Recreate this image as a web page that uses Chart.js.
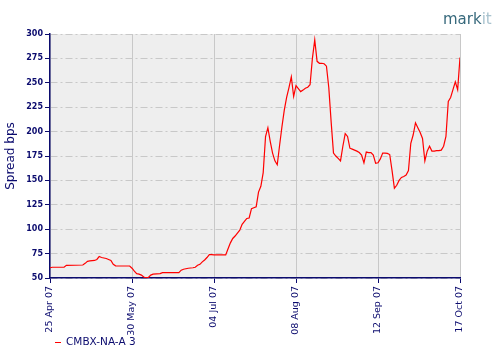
<!DOCTYPE html>
<html>
<head>
<meta charset="utf-8">
<script src="https://cdn.jsdelivr.net/npm/chart.js@4.4.0/dist/chart.umd.min.js"></script>
<style>
  html, body { margin: 0; padding: 0; background: #fff; }
  #wrap { position: relative; width: 500px; height: 360px; }
</style>
</head>
<body>
<div id="wrap"><canvas id="chart" width="500" height="360"></canvas></div>
<script>
// days since 25 Apr 07
const days = [0, 1, 6, 7, 14, 15, 16, 17, 19, 20, 21, 22, 23, 24, 25, 26, 27, 28, 34, 35,
  36, 37, 38, 39, 40, 41, 42, 43, 44, 47, 48, 55, 56, 57, 59, 61, 62, 63, 64, 65,
  66, 67, 68, 69, 70, 75, 76, 77, 78, 79, 80, 81, 82, 83, 84, 85, 86, 87, 88, 89,
  90, 91, 92, 93, 94, 95, 96, 97, 98, 99, 100, 101, 102, 103, 104, 105, 106, 107, 108, 109,
  110, 111, 112, 113, 114, 115, 116, 117, 118, 119, 120, 121, 122, 123, 124, 125, 126, 127, 128, 129,
  130, 131, 132, 133, 134, 135, 136, 137, 138, 139, 140, 141, 142, 143, 144, 145, 146, 147, 148, 149,
  150, 151, 152, 153, 154, 155, 156, 157, 158, 159, 160, 161, 162, 163, 164, 165, 166, 167, 168, 169,
  170, 171, 172, 173, 174, 175];
const spread = [60.5, 61, 61, 63, 63.3, 65, 67, 67.5, 68, 69, 72, 71, 70.5, 70, 69, 68, 64, 62.5, 62.3, 60,
  57, 54.5, 54, 53, 51, 50.3, 50.5, 53, 54, 54.5, 55.5, 55.5, 58, 59, 60, 60.5, 61, 63, 64, 66.5,
  68.5, 71, 74, 74, 73.6, 73.6, 80, 86, 90.5, 93, 96, 99, 105, 108, 111, 111.5, 121, 122, 123, 138,
  144, 158, 195, 204, 190, 178, 170, 166, 186, 205, 222, 235, 245, 256, 236, 247, 244, 241, 242.5, 244.5,
  245.5, 248, 275, 294, 272, 270, 270, 269.5, 267, 245, 210, 178, 175, 172.5, 170, 185, 198, 195, 183, 182,
  181, 180, 178.5, 176, 168, 179, 178.4, 178.4, 176, 167.5, 168, 172, 178, 178, 177.7, 176.5, 160, 142, 145, 150,
  153, 154, 155.5, 160, 188, 196.5, 209, 204, 199, 193, 170, 180, 185, 180, 180, 180.5, 180.5, 181, 185, 195,
  231, 235, 243, 251, 243, 276];
const seriesName = "CMBX-NA-A 3";

const xTickDays = [0, 35, 70, 105, 140, 175];
const xTickLabels = ["25 Apr 07", "30 May 07", "04 Jul 07", "08 Aug 07", "12 Sep 07", "17 Oct 07"];
const yMin = 50, yMax = 300, yStep = 25;

const navy = "#0b0b6e";
const gridGrey = "#c8c8c8";

const extras = {
  id: "extras",
  beforeDraw(chart) {
    const { ctx, chartArea: a } = chart;
    ctx.save();
    ctx.fillStyle = "#eeeeee";
    ctx.fillRect(a.left, a.top, a.right - a.left, a.bottom - a.top);
    ctx.restore();
  },
  afterDraw(chart) {
    const ctx = chart.ctx;
    ctx.save();
    // legend
    ctx.strokeStyle = "red";
    ctx.lineWidth = 1;
    ctx.beginPath();
    ctx.moveTo(55, 342.5);
    ctx.lineTo(61, 342.5);
    ctx.stroke();
    ctx.fillStyle = navy;
    ctx.font = "10.5px 'DejaVu Sans'";
    ctx.textBaseline = "middle";
    ctx.fillText(seriesName, 66, 342.5);
    // logo
    ctx.font = "15px 'DejaVu Sans'";
    ctx.textBaseline = "alphabetic";
    ctx.fillStyle = "#37697c";
    ctx.fillText("mark", 443, 24);
    const w = ctx.measureText("mark").width;
    ctx.fillStyle = "#a9c3cf";
    ctx.fillText("it", 443 + w, 24);
    ctx.restore();
  }
};

new Chart(document.getElementById("chart"), {
  type: "line",
  data: {
    datasets: [{
      label: seriesName,
      data: days.map((d, i) => ({ x: d, y: spread[i] })),
      borderColor: "red",
      borderWidth: 1.2,
      pointRadius: 0,
      tension: 0,
      fill: false
    }]
  },
  options: {
    responsive: false,
    animation: false,
    layout: { padding: { left: 0, top: 34, right: 40, bottom: 0 } },
    plugins: { legend: { display: false }, tooltip: { enabled: false } },
    scales: {
      x: {
        type: "linear",
        min: xTickDays[0],
        max: xTickDays[xTickDays.length - 1],
        afterBuildTicks: (s) => { s.ticks = xTickDays.map(v => ({ value: v })); },
        afterFit: (s) => { s.height = 82; },
        ticks: {
          minRotation: 90,
          maxRotation: 90,
          padding: 3,
          color: navy,
          font: { family: "DejaVu Sans", size: 9.5 },
          callback: (v) => xTickLabels[xTickDays.indexOf(v)]
        },
        grid: { color: gridGrey, tickColor: navy, tickLength: 5, lineWidth: 1 },
        border: { color: navy, width: 1.5 }
      },
      y: {
        min: yMin,
        max: yMax,
        ticks: {
          stepSize: yStep,
          padding: 2,
          color: navy,
          font: { family: "DejaVu Sans", size: 8, weight: "bold" }
        },
        afterFit: (s) => { s.width = 50; },
        title: {
          display: true,
          text: "Spread bps",
          color: navy,
          font: { family: "DejaVu Sans", size: 12 }
        },
        grid: { color: gridGrey, tickColor: navy, tickLength: 5, lineWidth: 1 },
        border: { color: navy, width: 1.5, dash: [7, 3, 2, 3] }
      }
    }
  },
  plugins: [extras]
});
</script>
</body>
</html>
